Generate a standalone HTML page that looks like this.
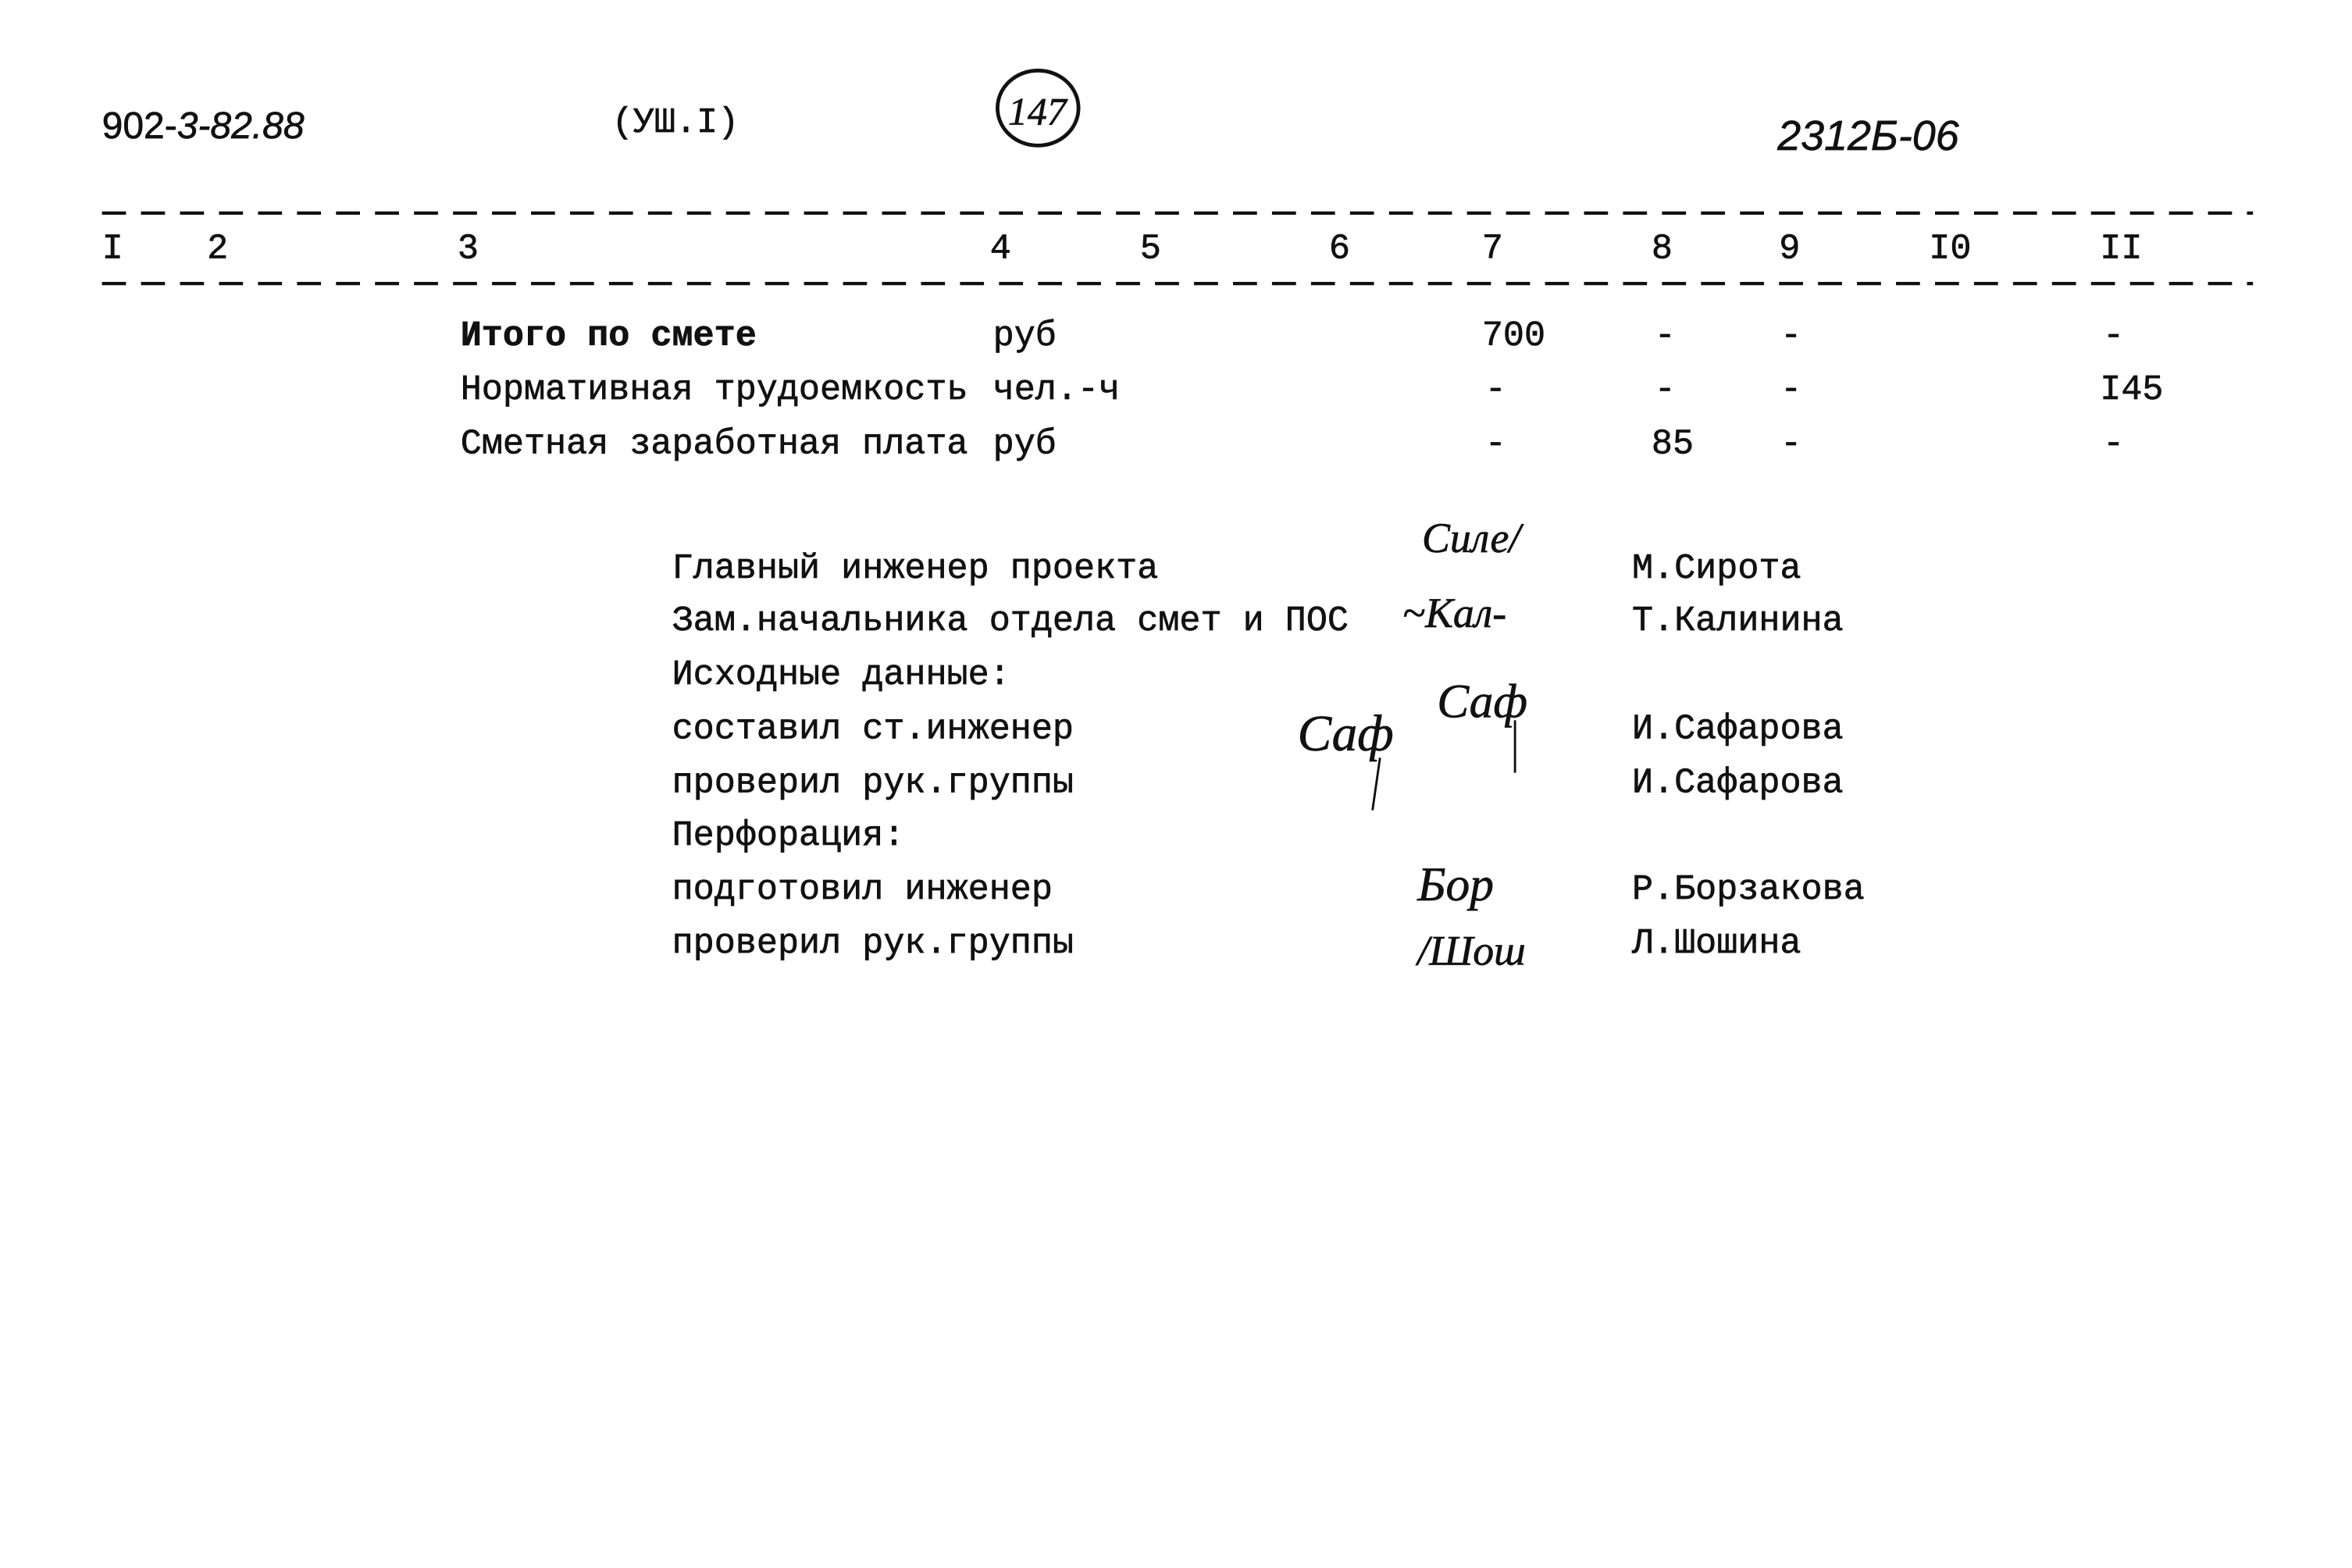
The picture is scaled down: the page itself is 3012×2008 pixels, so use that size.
<!DOCTYPE html>
<html><head><meta charset="utf-8"><style>
html,body{margin:0;padding:0;background:#fff;}
svg{display:block;}
text{font-family:"Liberation Mono","DejaVu Sans Mono",monospace;font-size:23.5px;fill:#111;stroke:#111;stroke-width:0.35;}
.b{font-weight:bold;}
.h{font-family:"Liberation Serif",serif;font-style:italic;font-size:28px;}
</style></head><body>
<svg width="3012" height="2008" viewBox="0 0 1568 1045" preserveAspectRatio="none" xmlns="http://www.w3.org/2000/svg">
<rect width="1568" height="1045" fill="#fff"/>
<text x="68" y="92" style="font-family:'Liberation Sans',sans-serif;font-size:25px">902-<tspan font-style="italic">3-82.88</tspan></text>
<text x="408" y="88">(УШ.I)</text>
<ellipse cx="692" cy="72" rx="27" ry="25" fill="none" stroke="#111" stroke-width="2.5"/>
<text x="672" y="83" class="h" style="font-size:26px">147</text>
<text x="1185" y="100" class="h" style="font-family:'Liberation Sans',sans-serif;font-size:28px">2312Б-06</text>
<line x1="68" y1="142" x2="1502" y2="142" stroke="#111" stroke-width="2.2" stroke-dasharray="16 10"/>
<line x1="68" y1="189" x2="1502" y2="189" stroke="#111" stroke-width="2.2" stroke-dasharray="16 10"/>
<text x="68" y="172">I</text><text x="138" y="172">2</text><text x="305" y="172">3</text>
<text x="660" y="172">4</text><text x="760" y="172">5</text><text x="886" y="172">6</text>
<text x="988" y="172">7</text><text x="1101" y="172">8</text><text x="1186" y="172">9</text>
<text x="1286" y="172">I0</text><text x="1400" y="172">II</text>
<text x="307" y="230" class="b">Итого по смете</text><text x="662" y="230">руб</text>
<text x="988" y="230">700</text><text x="1103" y="230">-</text><text x="1187" y="230">-</text><text x="1402" y="230">-</text>
<text x="307" y="266">Нормативная трудоемкость</text><text x="662" y="266">чел.-ч</text>
<text x="990" y="266">-</text><text x="1103" y="266">-</text><text x="1187" y="266">-</text><text x="1400" y="266">I45</text>
<text x="307" y="302">Сметная заработная плата</text><text x="662" y="302">руб</text>
<text x="990" y="302">-</text><text x="1101" y="302">85</text><text x="1187" y="302">-</text><text x="1402" y="302">-</text>
<text x="448" y="385">Главный инженер проекта</text><text x="1088" y="385">М.Сирота</text>
<text x="448" y="420">Зам.начальника отдела смет и ПОС</text><text x="1088" y="420">Т.Калинина</text>
<text x="448" y="456">Исходные данные:</text>
<text x="448" y="492">составил ст.инженер</text><text x="1088" y="492">И.Сафарова</text>
<text x="448" y="528">проверил рук.группы</text><text x="1088" y="528">И.Сафарова</text>
<text x="448" y="563">Перфорация:</text>
<text x="448" y="599">подготовил инженер</text><text x="1088" y="599">Р.Борзакова</text>
<text x="448" y="635">проверил рук.группы</text><text x="1088" y="635">Л.Шошина</text>
<text x="948" y="368" class="h">Силе/</text>
<text x="935" y="418" class="h">~Кал-</text>
<text x="865" y="500" class="h" style="font-size:34px">Саф</text>
<text x="958" y="478" class="h" style="font-size:32px">Саф</text>
<text x="945" y="600" class="h" style="font-size:32px">Бор</text>
<text x="945" y="643" class="h">/Шош</text>
<line x1="1010" y1="480" x2="1010" y2="515" stroke="#111" stroke-width="1.5"/>
<line x1="920" y1="505" x2="915" y2="540" stroke="#111" stroke-width="1.5"/>
</svg>
</body></html>
